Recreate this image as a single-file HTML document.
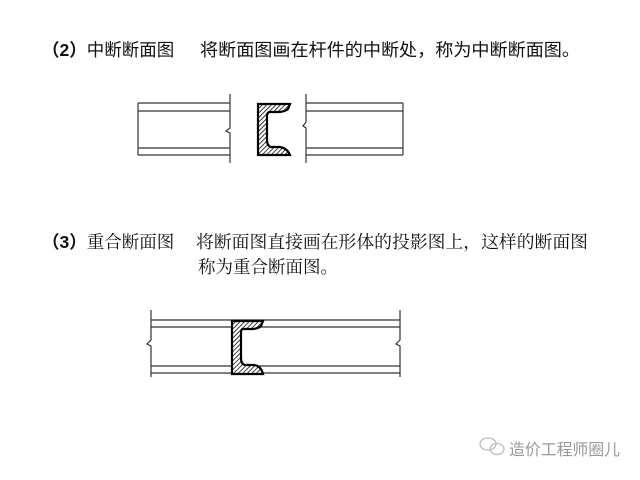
<!DOCTYPE html>
<html><head><meta charset="utf-8"><style>
html,body{margin:0;padding:0;background:#fff;}
svg{display:block;}
text{font-family:"Liberation Sans","Noto Sans CJK SC",sans-serif;fill:#111;}
.s{font-family:"Liberation Serif","Noto Serif CJK SC",serif;}
</style></head><body>
<svg width="640" height="480" viewBox="0 0 640 480" xmlns="http://www.w3.org/2000/svg">
<defs>
<pattern id="h" width="3.2" height="3.2" patternUnits="userSpaceOnUse" patternTransform="rotate(45)">
<rect width="3.2" height="3.2" fill="#fff"/><line x1="0" y1="0" x2="0" y2="3.2" stroke="#111" stroke-width="1.6"/>
</pattern>
</defs>
<text x="42" y="56" font-size="17.5"><tspan font-weight="bold">（2）</tspan>中断断面图</text>
<text x="200" y="56" font-size="17.5" textLength="380" lengthAdjust="spacingAndGlyphs">将断面图画在杆件的中断处，称为中断断面图。</text>
<text x="42" y="248" font-size="17.5"><tspan font-weight="bold">（3）</tspan><tspan class="s">重合断面图</tspan></text>
<text class="s" x="196" y="248" font-size="17.5" textLength="392" lengthAdjust="spacingAndGlyphs">将断面图直接画在形体的投影图上，这样的断面图</text>
<text class="s" x="198" y="273" font-size="17.5">称为重合断面图。</text>

<g stroke="#333" stroke-width="1.2" fill="none">
<line x1="138" y1="103" x2="138" y2="155"/>
<line x1="138" y1="103" x2="230" y2="103"/>
<line x1="138" y1="111" x2="230" y2="111"/>
<line x1="138" y1="148" x2="230" y2="148"/>
<line x1="138" y1="155" x2="230" y2="155"/>
<path d="M230 94 V128 L226 131 L230 133 V163"/>
<path d="M306 94 V122 L303 126 L306 128 V163"/>
<line x1="306" y1="103" x2="403" y2="103"/>
<line x1="306" y1="111" x2="403" y2="111"/>
<line x1="306" y1="148" x2="403" y2="148"/>
<line x1="306" y1="155" x2="403" y2="155"/>
<line x1="403" y1="103" x2="403" y2="155"/>
<path d="M151 310 V340 L147 344 L151 346 V377"/>
<path d="M400 310 V340 L396 344 L400 346 V377"/>
<line x1="151" y1="320" x2="400" y2="320"/>
<line x1="151" y1="327" x2="400" y2="327"/>
<line x1="151" y1="366" x2="400" y2="366"/>
<line x1="151" y1="373" x2="400" y2="373"/>
</g>
<path d="M258 104 H290 L288 109 Q285 112 278 112 H270 Q267 112 267 116 V140 Q267 146 271 147 H280 Q287 148 290 155 H258 Z" fill="url(#h)" stroke="#000" stroke-width="2.2"/>
<path d="M232 321 H263 L261 326 Q258 329 251 329 H243 Q241 329 241 333 V358 Q241 364 245 365 H254 Q261 366 263 374 H232 Z" fill="url(#h)" stroke="#000" stroke-width="2.2"/>

<g stroke="#bbb" fill="none" stroke-width="1.3">
<ellipse cx="488" cy="444" rx="8" ry="6"/>
<ellipse cx="497" cy="449" rx="7" ry="5.5"/>
</g>
<text x="509" y="455" font-size="16" textLength="111" lengthAdjust="spacingAndGlyphs" style="fill:#999">造价工程师圈儿</text>
</svg>
</body></html>
